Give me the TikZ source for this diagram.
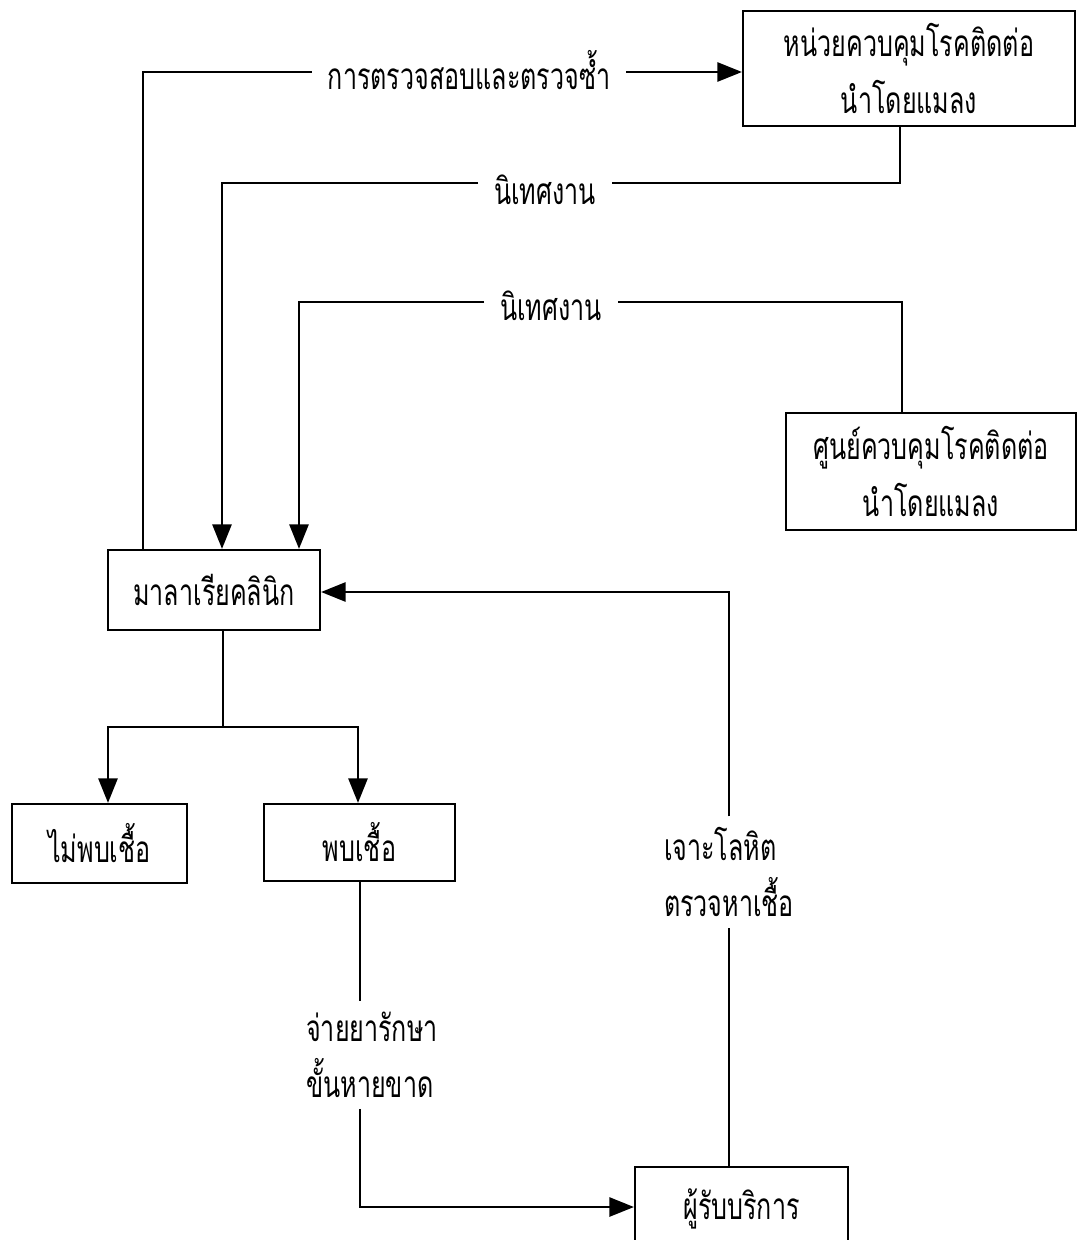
\documentclass[tikz,border=0pt]{standalone}
\usepackage{fontspec}
\newfontfamily\thaifont[Script=Thai,FakeStretch=0.68]{Loma}
\usetikzlibrary{arrows.meta}

\tikzset{
    box/.style={draw, line width=1.3pt, align=center, inner sep=2pt,
        font=\thaifont\fontsize{21}{32}\selectfont},
    lbl/.style={align=left, inner xsep=9pt, inner ysep=6pt,
        font=\thaifont\fontsize{21}{32}\selectfont},
    link/.style={line width=1.1pt},
    arr/.style={link, -{Triangle[length=14pt,width=11pt]}}
}

\begin{document}
\begin{tikzpicture}[x=0.02cm,y=-0.02cm]
    % Page frame (pixels of the reference)
    \useasboundingbox (0,0) rectangle (1077,1240);

    % Boxes
    \node[box, minimum width=6.64cm, minimum height=2.3cm] (unit) at (909,68.5)
        {หน่วยควบคุมโรคติดต่อ\\นำโดยแมลง};
    \node[box, minimum width=5.8cm, minimum height=2.34cm] (centre) at (931,471.5)
        {ศูนย์ควบคุมโรคติดต่อ\\นำโดยแมลง};
    \node[box, minimum width=4.24cm, minimum height=1.6cm] (clinic) at (214,590)
        {มาลาเรียคลินิก};
    \node[box, minimum width=3.5cm, minimum height=1.58cm] (noinf) at (99.5,843.5)
        {ไม่พบเชื้อ};
    \node[box, minimum width=3.82cm, minimum height=1.54cm] (found) at (359.5,842.5)
        {พบเชื้อ};
    \node[box, minimum width=4.26cm, minimum height=1.66cm] (client) at (741.5,1208.5)
        {ผู้รับบริการ};

    % Labels on the connectors
    \node[lbl] (lblcheck) at (469,70) {การตรวจสอบและตรวจซ้ำ};
    \node[lbl] (lblsup1) at (545,190) {นิเทศงาน};
    \node[lbl] (lblsup2) at (551,306) {นิเทศงาน};
    \node[lbl] (lblblood) at (729,872) {เจาะโลหิต\\ตรวจหาเชื้อ};
    \node[lbl] (lbldrug) at (372,1055) {จ่ายยารักษา\\ขั้นหายขาด};

    % Corners of the connectors
    \coordinate (ca) at (143,72);
    \coordinate (ua) at (900,183);
    \coordinate (ub) at (222,183);
    \coordinate (sa) at (902,302);
    \coordinate (sb) at (299,302);
    \coordinate (ba) at (729,592);
    \coordinate (fork) at (223,727);
    \coordinate (fl) at (108,727);
    \coordinate (fr) at (358,727);
    \coordinate (da) at (360,1207);

    % Check and re-check
    \draw[link] (clinic.north -| ca) -- (ca) -- (ca -| lblcheck.west);
    \draw[arr] (lblcheck.east |- ca) -- (ca -| unit.west);

    % Supervision from the unit
    \draw[link] (unit.south -| ua) -- (ua) -- (ua -| lblsup1.east);
    \draw[arr] (ub -| lblsup1.west) -- (ub) -- (clinic.north -| ub);

    % Supervision from the centre
    \draw[link] (centre.north -| sa) -- (sa) -- (sa -| lblsup2.east);
    \draw[arr] (sb -| lblsup2.west) -- (sb) -- (clinic.north -| sb);

    % Blood test
    \draw[link] (client.north -| ba) -- (lblblood.south -| ba);
    \draw[arr] (lblblood.north -| ba) -- (ba) -- (clinic.east |- ba);

    % Results
    \draw[link] (clinic.south -| fork) -- (fork);
    \draw[arr] (fork) -- (fl) -- (noinf.north -| fl);
    \draw[arr] (fork) -- (fr) -- (found.north -| fr);

    % Treatment
    \draw[link] (found.south -| da) -- (lbldrug.north -| da);
    \draw[arr] (lbldrug.south -| da) -- (da) -- (client.west |- da);

\end{tikzpicture}
\end{document}
